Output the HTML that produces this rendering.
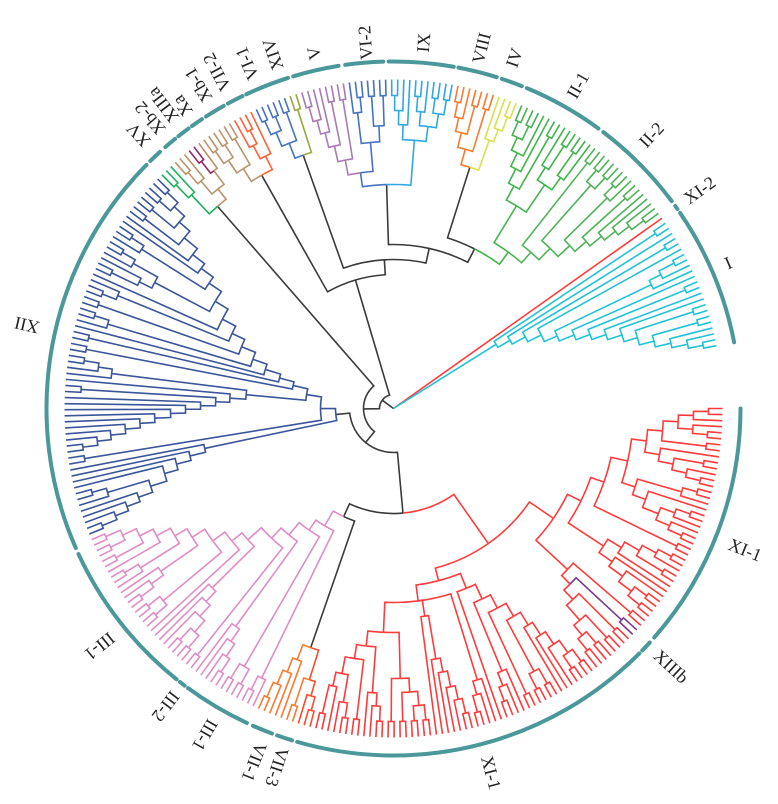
<!DOCTYPE html>
<html>
<head>
<meta charset="utf-8">
<style>
html,body{margin:0;padding:0;background:#fff;}
#chart{display:block;width:778px;height:804px;}
#tree path{fill:none;stroke-width:1.6;stroke-linejoin:miter;}
#sectors path{fill:none;stroke:#4a9899;stroke-width:4;stroke-linecap:round;}
.lbl{font-family:"Liberation Serif",serif;font-size:18px;fill:#222;text-anchor:middle;dominant-baseline:central;}
</style>
</head>
<body>
<svg id="chart" xmlns="http://www.w3.org/2000/svg" width="778" height="804" viewBox="0 0 778 804">
<g id="sectors" style="filter:blur(.25px)"></g>
<g id="tree" style="filter:blur(.35px)"></g>
<g id="labels" transform="translate(393.5 408.5)">
<text class="lbl" transform="rotate(21.9) translate(379 0)">XI-1</text>
<text class="lbl" transform="rotate(42.9) translate(379 0)">XIIIb</text>
<text class="lbl" transform="rotate(75) translate(377 0)">XI-1</text>
<text class="lbl" transform="rotate(108) translate(377 0)">VII-3</text>
<text class="lbl" transform="rotate(111.5) translate(380 0)">VII-1</text>
<text class="lbl" transform="rotate(120) translate(377 0)">III-1</text>
<text class="lbl" transform="rotate(127.4) translate(375 0)">III-2</text>
<text class="lbl" transform="rotate(141) translate(378 0)">III-1</text>
<text class="lbl" transform="rotate(192.8) translate(376 0)">XII</text>
<text class="lbl" transform="rotate(227) translate(374 0)">XV</text>
<text class="lbl" transform="rotate(230) translate(379 0)">Xb-2</text>
<text class="lbl" transform="rotate(232.8) translate(381 0)">XIIIa</text>
<text class="lbl" transform="rotate(235.1) translate(369 0)">Xa</text>
<text class="lbl" transform="rotate(238.9) translate(378 0)">Xb-1</text>
<text class="lbl" transform="rotate(242.3) translate(380 0)">VII-2</text>
<text class="lbl" transform="rotate(247) translate(375 0)">VI-1</text>
<text class="lbl" transform="rotate(251.2) translate(374 0)">XIV</text>
<text class="lbl" transform="rotate(257.4) translate(364 0)">V</text>
<text class="lbl" transform="rotate(265.6) translate(367 0)">VI-2</text>
<text class="lbl" transform="rotate(274.7) translate(367 0)">IX</text>
<text class="lbl" transform="rotate(283.7) translate(371 0)">VIII</text>
<text class="lbl" transform="rotate(289) translate(371 0)">IV</text>
<text class="lbl" transform="rotate(299.7) translate(372 0)">II-1</text>
<text class="lbl" transform="rotate(313.3) translate(376 0)">II-2</text>
<text class="lbl" transform="rotate(324.5) translate(376 0)">XI-2</text>
<text class="lbl" transform="rotate(336.5) translate(365 0)">I</text>
</g>
</svg>
<script>
// Palette
const colorNames = ['black','red','redor','orange','pink','navy','green','green2','green3','brown','maroon','orred','blue','olive','purple','sky','yellow','cyan','violet'];
const colorValues = ['#3a3a3a','#ff3b3b','#ff4a2e','#f97a30','#e08cc6','#3a5599','#3fb54c','#4fb35a','#1fb060','#b9946c','#932a68','#ff6138','#4672c4','#97a83e','#aa7ab4','#2fa8e2','#d9e04c','#1fc3d6','#7a3a8a'];

// Clades, in a compact depth(child child) notation. "." is a leaf, @name sets colour, $name includes a clade.
const cladeNames = ['root','redClade','purpleB','sClade','orangeNode','pinkClade','xii','xiiMid','upperC','backbone134','node268b','node269','node224','node253','ii','cyanI'];
const cladeTrees = [
 /* root */ '0(14(30(44(105(@red $redClade 119($orangeNode @pink $pinkClade)) @black $xii) $upperC) $backbone134) @red . @cyan $cyanI)',
 /* redClade */ '165(194(209(223(240(255(270(285(300(315(. .) .) 300(. 315(. .))) 315(. .)) 270(. 285(315(. .) 300(. 315(. .))))) 254(300(315(. .) .) 268(. 285(300(315(. .) .) 300(. 315(. .)))))) 315(. .)) 251(267(284(300(315(. .) .) 315(. .)) .) 267(. 284(. 300(315(. .) 315(. .)))))) 237(313(. .) 249($purpleB 262(313(. .) 282(313(. .) 295(310(. .) 310(. .))))))) $sClade)',
 /* purpleB */ '@violet 311(. .)',
 /* sClade */ '178(194(210(225(240(255(270(285(300(315(. .) 315(. .)) .) .) .) 298(315(. .) 315(. .))) 315(. .)) 284(. 298(. 313(. .)))) .) 194(284(. 298(. 315(. .))) 210(254(268(284(298(313(. .) .) .) .) .) .) 224(270(284(298(313(. .) 313(. .)) 313(. .)) 313(. .)) 239(285(298(313(. .) .) .) 253(313(. .) 270(298(313(. .) .) 284(. 313(. .)))))))))',
 /* orangeNode */ '@black 253(@redor 284(299(313(. .) .) @orange 313(. .)) @orange 269(. 284(. 299(. 315(. .)))))',
 /* pinkClade */ '136(300(. 315(. .)) 148(298(315(. .) 315(. .)) 164(269(284(299(315(. .) .) .) .) 178(315(. .) 196(255(269(284(299(315(. .) 315(. .)) .) .) .) 209(. 224(300(315(. .) 315(. .)) 239(284(299(315(. .) .) .) 253(299(. 315(. .)) 269(. 284(315(. .) 299(315(. .) 315(. .))))))))))))',
 /* xii */ '58(@navy 193(209(224(238(255(270(284(298(314(. .) .) .) .) 298(. 313(. .))) .) .) .) .) @navy 73(313(. .) 88(148(164(178(193(208(223(239(254(269(284(298(313(. .) .) .) .) .) .) .) .) .) 313(. .)) .) 284(. 298(. 313(. .)))) $xiiMid)))',
 /* xiiMid */ '103(313(. .) 118(313(. .) 134(. 149(298(. 313(. .)) 164(313(. .) 178(298(313(. .) .) 193(. 208(270(284(313(. .) .) 298(. 313(. .))) 223(298(. 313(. .)) 238(. 253(. 270(313(. .) 284(313(. .) 298(313(. .) 313(. .)',
 /* upperC */ '@black 268(@green3 294(312(. .) .) @brown 281(298(313(. .) .) 298(@maroon 313(. .) .)))',
 /* backbone134 */ '@black 134($node268b 149($node269 164($node224 179($node253 @green $ii))))',
 /* node268b */ '268(@brown 283(298(313(. .) 313(. .)) 313(. .)) @orred 283(298(. 313(. .)) .))',
 /* node269 */ '269(@blue 285(300(315(. .) 315(. .)) 315(. .)) @olive 314(. .))',
 /* node224 */ '224(@blue 238(@purple 253(269(284(298(313(. .) .) .) 313(. .)) 313(. .)) @blue 267(298(. 313(. .)) 283(313(. .) 313(. .)))) @sky 269(284(298(313(. .) .) .) 284(298(313(. .) .) 298(313(. .) 313(. .)))))',
 /* node253 */ '253(@orange 269(284(298(313(. .) .) 313(. .)) 313(. .)) @yellow 285(. 298(. 313(. .))))',
 /* ii */ '194(237(253(269(284(298(313(. .) 313(. .)) .) .) 313(. .)) 270(285(. 313(. .)) 285(313(. .) .))) @green2 208(313(. .) 224(298(313(. .) 313(. .)) 240(300(313(. .) .) 255(313(. .) 270(. 284(. 298(. 313(. .))))))))',
 /* cyanI */ '121(315(. .) 135(. 150(316(. .) 165(. 179(286(299(316(. .) .) .) 195(. 210(315(. .) 225(. 240(. 254(315(. .) 269(316(. .) 285(. 301(. 316(. .)'
];

// Sector arcs on the angular axis (degrees clockwise from east)
const sectorStarts = [0,42.4,44.9,107,110.5,115,127,128.7,156.3,225.5,228.9,231.7,234.5,237.3,241.5,244.9,253.2,262,269.2,280.8,288.2,292.6,307.2,324.3,325.7];
const sectorEnds = [41.3,44.2,106.1,109.6,113.9,126.3,128,155.2,224.6,227.7,231,233.8,236.5,240.7,244.2,252.3,260.9,268.3,280,287.3,291.7,306.2,323.3,324.9,349];

// Axes
const cx = 393.5, cy = 408.5;
const firstTipDeg = 0, lastTipDeg = 349;
const maxDepth = 329, tipRadius = 329, sectorRadius = 347;
const rScale = d => d * tipRadius / maxDepth;
const polar = (r, deg) => {
  const a = deg * Math.PI / 180;
  return [(cx + r * Math.cos(a)).toFixed(2), (cy + r * Math.sin(a)).toFixed(2)];
};
const NS = 'http://www.w3.org/2000/svg';

function parseClade(name) {
  const text = cladeTrees[cladeNames.indexOf(name)];
  const tokens = text.match(/@\w+|\$\w+|\d+|[().]/g);
  let i = 0;
  function node() {
    let color = null;
    if (tokens[i][0] === '@') { color = tokens[i].slice(1); i++; }
    const t = tokens[i];
    if (t === '.') { i++; return { leaf: true, depth: maxDepth, color: color, children: [] }; }
    if (t[0] === '$') {
      i++;
      const sub = parseClade(t.slice(1));
      if (color) sub.color = sub.color || color;
      return sub;
    }
    const depth = +t;
    i += 2;
    const children = [];
    while (i < tokens.length && tokens[i] !== ')') children.push(node());
    i++;
    return { leaf: false, depth: depth, color: color, children: children };
  }
  return node();
}

const rootNode = parseClade('root');
const leaves = [];
(function collect(n) {
  if (n.leaf) leaves.push(n);
  n.children.forEach(collect);
})(rootNode);
const angleScale = i => firstTipDeg + i * (lastTipDeg - firstTipDeg) / (leaves.length - 1);
leaves.forEach((l, i) => { l.angle = angleScale(i); });
(function place(n) {
  if (n.leaf) return;
  n.children.forEach(place);
  n.angle = (n.children[0].angle + n.children[n.children.length - 1].angle) / 2;
})(rootNode);

const treeGroup = document.getElementById('tree');
function drawNode(n, parent, inherited) {
  const colorName = n.color || inherited;
  if (parent) {
    const pr = rScale(parent.depth), cr = rScale(n.depth);
    const p0 = polar(pr, parent.angle), p1 = polar(pr, n.angle), p2 = polar(cr, n.angle);
    const sweep = n.angle >= parent.angle ? 1 : 0;
    const el = document.createElementNS(NS, 'path');
    el.setAttribute('d', 'M' + p0.join(' ') + 'A' + pr.toFixed(2) + ' ' + pr.toFixed(2) + ' 0 0 ' + sweep + ' ' + p1.join(' ') + 'L' + p2.join(' '));
    el.setAttribute('stroke', colorValues[colorNames.indexOf(colorName)]);
    
    
    treeGroup.appendChild(el);
  }
  n.children.forEach(c => drawNode(c, n, colorName));
}
drawNode(rootNode, null, 'black');

const sectorGroup = document.getElementById('sectors');
sectorStarts.forEach((s, i) => {
  const e = sectorEnds[i];
  const a = polar(sectorRadius, s), b = polar(sectorRadius, e);
  const el = document.createElementNS(NS, 'path');
  el.setAttribute('d', 'M' + a.join(' ') + 'A' + sectorRadius + ' ' + sectorRadius + ' 0 ' + (e - s > 180 ? 1 : 0) + ' 1 ' + b.join(' '));
  
  
  sectorGroup.appendChild(el);
});
</script>
</body>
</html>
